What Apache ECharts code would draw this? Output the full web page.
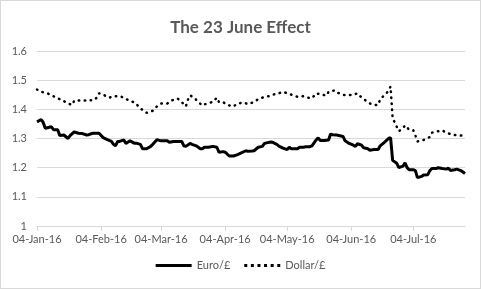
<!doctype html>
<html>
<head>
<meta charset="UTF-8">
<title>The 23 June Effect</title>
<script src="https://cdn.jsdelivr.net/npm/echarts@6/dist/echarts.min.js"></script>
<style>
  html, body { margin: 0; padding: 0; background: #fff; }
  #main { width: 481px; height: 289px; box-sizing: border-box; border: 1px solid #d9d9d9; }
</style>
</head>
<body>
<div id="main"></div>
<script>
// Euro/£ readings
var euroDates = ['2016-01-04','2016-01-06','2016-01-07','2016-01-08','2016-01-11','2016-01-12','2016-01-14','2016-01-15','2016-01-17','2016-01-19',
  '2016-01-20','2016-01-22','2016-01-24','2016-01-26','2016-01-28','2016-01-29','2016-01-31','2016-02-01','2016-02-03','2016-02-05',
  '2016-02-07','2016-02-09','2016-02-10','2016-02-11','2016-02-12','2016-02-13','2016-02-15','2016-02-16','2016-02-18','2016-02-20',
  '2016-02-21','2016-02-23','2016-02-24','2016-02-26','2016-02-28','2016-02-29','2016-03-02','2016-03-04','2016-03-05','2016-03-07',
  '2016-03-08','2016-03-10','2016-03-11','2016-03-12','2016-03-14','2016-03-15','2016-03-16','2016-03-18','2016-03-19','2016-03-21',
  '2016-03-23','2016-03-24','2016-03-25','2016-03-27','2016-03-29','2016-03-31','2016-04-01','2016-04-03','2016-04-04','2016-04-06',
  '2016-04-08','2016-04-10','2016-04-11','2016-04-14','2016-04-15','2016-04-17','2016-04-18','2016-04-20','2016-04-22','2016-04-23',
  '2016-04-24','2016-04-26','2016-04-27','2016-04-29','2016-04-30','2016-05-02','2016-05-04','2016-05-05','2016-05-06','2016-05-08',
  '2016-05-09','2016-05-10','2016-05-12','2016-05-13','2016-05-15','2016-05-16','2016-05-18','2016-05-19','2016-05-20','2016-05-22',
  '2016-05-24','2016-05-25','2016-05-26','2016-05-28','2016-05-29','2016-05-31','2016-06-01','2016-06-03','2016-06-05','2016-06-06',
  '2016-06-07','2016-06-09','2016-06-10','2016-06-12','2016-06-13','2016-06-15','2016-06-17','2016-06-18','2016-06-20','2016-06-22',
  '2016-06-23','2016-06-24','2016-06-26','2016-06-27','2016-06-29','2016-06-30','2016-07-01','2016-07-02','2016-07-04','2016-07-05',
  '2016-07-06','2016-07-08','2016-07-09','2016-07-11','2016-07-12','2016-07-13','2016-07-15','2016-07-16','2016-07-18','2016-07-20',
  '2016-07-21','2016-07-22','2016-07-24','2016-07-25','2016-07-27','2016-07-29'];
var euroValues = [1.357,1.365,1.355,1.335,1.34,1.33,1.33,1.31,1.312,1.30,
  1.31,1.323,1.318,1.317,1.312,1.313,1.318,1.318,1.318,1.303,
  1.296,1.29,1.28,1.275,1.29,1.29,1.295,1.283,1.292,1.284,
  1.284,1.28,1.265,1.265,1.273,1.28,1.296,1.292,1.292,1.292,
  1.287,1.29,1.29,1.29,1.29,1.275,1.273,1.283,1.28,1.275,
  1.265,1.265,1.27,1.27,1.273,1.27,1.253,1.255,1.253,1.24,
  1.24,1.245,1.248,1.258,1.256,1.257,1.258,1.27,1.273,1.283,
  1.285,1.288,1.287,1.28,1.274,1.267,1.262,1.27,1.265,1.265,
  1.265,1.27,1.27,1.272,1.272,1.275,1.295,1.302,1.293,1.293,
  1.295,1.315,1.313,1.312,1.31,1.307,1.292,1.283,1.277,1.273,
  1.282,1.277,1.268,1.265,1.26,1.262,1.262,1.275,1.287,1.30,
  1.303,1.225,1.215,1.20,1.205,1.217,1.20,1.193,1.193,1.19,
  1.166,1.17,1.175,1.176,1.19,1.197,1.197,1.20,1.197,1.195,
  1.198,1.19,1.193,1.195,1.19,1.18];

// Dollar/£ readings
var dollarDates = ['2016-01-04','2016-01-06','2016-01-09','2016-01-12','2016-01-13','2016-01-15','2016-01-17','2016-01-19','2016-01-21','2016-01-22',
  '2016-01-25','2016-01-28','2016-01-29','2016-01-31','2016-02-02','2016-02-03','2016-02-05','2016-02-08','2016-02-10','2016-02-13',
  '2016-02-15','2016-02-16','2016-02-18','2016-02-21','2016-02-22','2016-02-24','2016-02-26','2016-02-29','2016-03-02','2016-03-04',
  '2016-03-07','2016-03-09','2016-03-12','2016-03-14','2016-03-16','2016-03-17','2016-03-18','2016-03-20','2016-03-22','2016-03-24',
  '2016-03-26','2016-03-29','2016-03-31','2016-04-01','2016-04-03','2016-04-05','2016-04-08','2016-04-10','2016-04-13','2016-04-15',
  '2016-04-18','2016-04-20','2016-04-22','2016-04-25','2016-04-27','2016-04-30','2016-05-02','2016-05-04','2016-05-07','2016-05-09',
  '2016-05-12','2016-05-14','2016-05-16','2016-05-18','2016-05-20','2016-05-23','2016-05-24','2016-05-27','2016-05-28','2016-05-31',
  '2016-06-02','2016-06-05','2016-06-07','2016-06-09','2016-06-13','2016-06-15','2016-06-17','2016-06-18','2016-06-21','2016-06-22',
  '2016-06-23','2016-06-24','2016-06-27','2016-06-29','2016-06-30','2016-07-02','2016-07-04','2016-07-05','2016-07-06','2016-07-09',
  '2016-07-12','2016-07-13','2016-07-16','2016-07-18','2016-07-20','2016-07-22','2016-07-24','2016-07-27','2016-07-29'];
var dollarValues = [1.468,1.46,1.455,1.445,1.44,1.435,1.428,1.42,1.415,1.43,
  1.43,1.43,1.432,1.43,1.44,1.455,1.45,1.44,1.445,1.445,
  1.44,1.435,1.43,1.42,1.41,1.398,1.388,1.395,1.41,1.42,
  1.42,1.43,1.437,1.425,1.41,1.433,1.448,1.44,1.425,1.413,
  1.42,1.425,1.44,1.425,1.425,1.415,1.41,1.42,1.423,1.418,
  1.425,1.435,1.44,1.445,1.45,1.455,1.46,1.455,1.448,1.443,
  1.445,1.44,1.438,1.455,1.452,1.447,1.46,1.465,1.458,1.45,
  1.448,1.45,1.455,1.44,1.42,1.415,1.415,1.435,1.455,1.465,
  1.478,1.37,1.325,1.335,1.345,1.33,1.328,1.31,1.29,1.295,
  1.305,1.32,1.325,1.328,1.32,1.315,1.312,1.31,1.31];

var tickDates = ['2016-01-04','2016-02-04','2016-03-04','2016-04-04','2016-05-04','2016-06-04','2016-07-04'];
var yTicks = [1, 1.1, 1.2, 1.3, 1.4, 1.5, 1.6];

var monthNames = ['Jan','Feb','Mar','Apr','May','Jun','Jul','Aug','Sep','Oct','Nov','Dec'];
function ts(s) { var p = s.split('-'); return Date.UTC(+p[0], +p[1] - 1, +p[2]); }
function fmtDate(v) {
  var d = new Date(v);
  var dd = ('0' + d.getUTCDate()).slice(-2);
  return dd + '-' + monthNames[d.getUTCMonth()] + '-' + String(d.getUTCFullYear()).slice(-2);
}
function pairs(dates, vals) {
  return dates.map(function (d, i) { return [ts(d), vals[i]]; });
}

var tickTs = tickDates.map(ts);
var grey = '#595959';
var font = 'Lato, "Open Sans", sans-serif';

// legend keys: solid bar and six dots
var solidIcon = 'path://M0,0 L36,0 L36,3 L0,3 Z';
var dotIcon = 'path://M0,0h3v3h-3z M6.6,0h3v3h-3z M13.2,0h3v3h-3z M19.8,0h3v3h-3z M26.4,0h3v3h-3z M33,0h3v3h-3z';

var myChart = echarts.init(document.getElementById('main'));
var option = {
  backgroundColor: '#fff',
  animation: false,
  textStyle: { fontFamily: font },
  title: {
    text: 'The 23 June Effect',
    left: 'center',
    top: 13,
    textStyle: { color: grey, fontSize: 17, fontWeight: 'bold', fontFamily: font }
  },
  legend: {
    bottom: 12,
    left: 'center',
    itemWidth: 36,
    itemHeight: 3,
    itemGap: 14,
    textStyle: { color: grey, fontSize: 11, fontFamily: font },
    data: [
      { name: 'Euro/£', icon: solidIcon },
      { name: 'Dollar/£', icon: dotIcon }
    ]
  },
  grid: { left: 36, right: 15, top: 50, bottom: 62 },
  xAxis: {
    type: 'value',
    min: ts('2016-01-04'),
    max: ts('2016-07-29'),
    axisLine: { lineStyle: { color: '#d9d9d9' } },
    axisTick: { show: true, length: 5, customValues: tickTs, lineStyle: { color: '#d9d9d9' } },
    splitLine: { show: false },
    axisLabel: {
      customValues: tickTs,
      formatter: function (v) { return fmtDate(v); },
      color: grey, fontSize: 11, margin: 8, fontFamily: font,
      hideOverlap: false
    }
  },
  yAxis: {
    type: 'value',
    min: yTicks[0],
    max: yTicks[yTicks.length - 1],
    interval: 0.1,
    axisLine: { show: false },
    axisTick: { show: false },
    splitLine: { lineStyle: { color: '#d9d9d9' } },
    axisLabel: { color: grey, fontSize: 11, margin: 10, fontFamily: font }
  },
  series: [
    {
      name: 'Euro/£',
      type: 'line',
      showSymbol: false,
      symbol: 'none',
      data: pairs(euroDates, euroValues),
      itemStyle: { color: '#000' },
      lineStyle: { color: '#000', width: 3 }
    },
    {
      name: 'Dollar/£',
      type: 'line',
      showSymbol: false,
      symbol: 'none',
      data: pairs(dollarDates, dollarValues),
      itemStyle: { color: '#000' },
      lineStyle: { color: '#000', width: 2.5, type: [0.5, 5.5], cap: 'round' }
    }
  ]
};
myChart.setOption(option);
</script>
</body>
</html>
